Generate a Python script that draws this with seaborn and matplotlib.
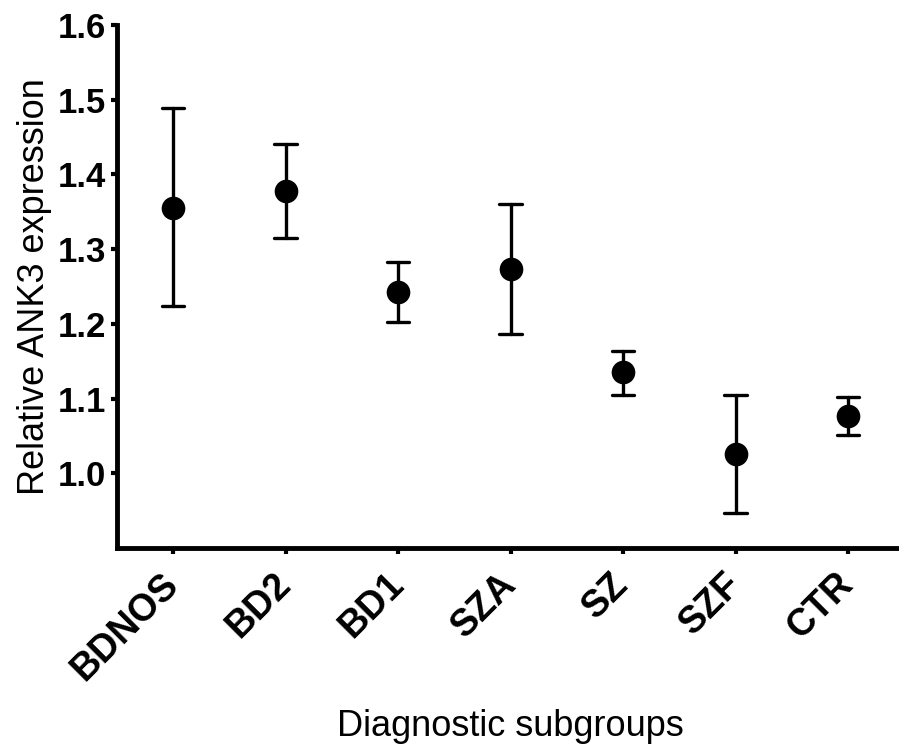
import matplotlib
matplotlib.use("Agg")
import matplotlib.pyplot as plt
import numpy as np
import pandas as pd
import seaborn as sns

# values (mean, lower and upper error limits)
groups = ["BDNOS", "BD2", "BD1", "SZA", "SZ", "SZF", "CTR"]
means = [1.355, 1.378, 1.243, 1.273, 1.135, 1.026, 1.077]
lower = [1.224, 1.315, 1.202, 1.187, 1.105, 0.947, 1.051]
upper = [1.489, 1.441, 1.283, 1.360, 1.164, 1.105, 1.102]
y_ticks = [1.0, 1.1, 1.2, 1.3, 1.4, 1.5, 1.6]

# long form: median of (lower, mean, upper) is the mean, min/max give the bar
df = pd.DataFrame({
    "group": np.repeat(groups, 3),
    "value": np.column_stack([lower, means, upper]).ravel(),
})

sns.set_theme(style="ticks")
plt.rcParams["font.family"] = ["Liberation Sans", "DejaVu Sans"]
plt.rcParams.update({"text.color": "black", "axes.labelcolor": "black"})

fig = plt.figure(figsize=(8.99, 7.53), dpi=100)
ax = fig.add_axes([0.130, 0.272, 0.876, 0.695])

sns.pointplot(
    data=df, x="group", y="value", order=groups,
    estimator="median", errorbar=lambda v: (v.min(), v.max()),
    linestyle="none", marker="o", markersize=15, color="black",
    capsize=0.2, err_kws={"linewidth": 2.4}, ax=ax,
)

ax.set_ylim(0.9, 1.6)
ax.set_xlim(-0.5, len(groups) - 0.5)
ax.set_yticks(y_ticks)
ax.set_yticklabels([f"{t:.1f}" for t in y_ticks], fontsize=25, fontweight="bold")
ax.set_xticks(range(len(groups)))
ax.set_xticklabels(groups, rotation=45, ha="right", va="center",
                   rotation_mode="anchor", fontsize=27, fontweight="bold")

for side in ["top", "right"]:
    ax.spines[side].set_visible(False)
for side in ["left", "bottom"]:
    ax.spines[side].set_linewidth(3.5)
    ax.spines[side].set_color("black")
ax.tick_params(axis="y", length=4, width=3, pad=4, colors="black")
ax.tick_params(axis="x", length=4, width=3, pad=18, colors="black")

ax.set_xlabel("Diagnostic subgroups", fontsize=26, labelpad=16)
ax.set_ylabel("Relative ANK3 expression", fontsize=26, labelpad=4)

fig.savefig("out.png", dpi=100)
